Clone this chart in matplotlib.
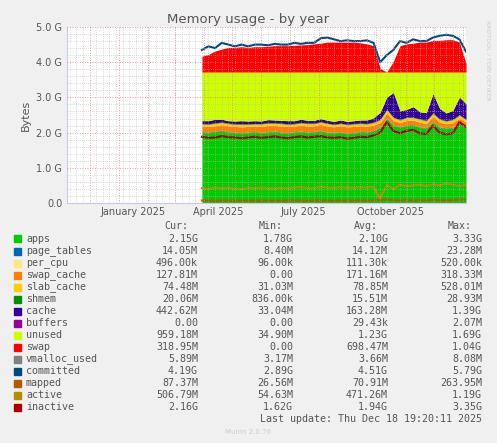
import matplotlib
matplotlib.use("Agg")
import matplotlib.pyplot as plt
import matplotlib.dates as mdates
import numpy as np
import pandas as pd

dates = pd.date_range("2025-03-30", periods=41, freq="7D")
mem_total = 3.72
apps = [2.02,2.00,2.03,2.05,2.01,2.00,1.98,2.00,2.02,1.99,2.01,2.03,2.00,1.98,2.01,2.03,2.00,2.02,2.04,2.00,1.99,2.01,1.97,1.99,2.02,2.01,2.05,2.15,2.40,2.20,2.15,2.20,2.22,2.15,2.13,2.30,2.15,2.12,2.14,2.25,2.15]
page_tables = [0.014]*41
per_cpu = [0.0001]*41
swap_cache = [0.15,0.16,0.15,0.16,0.17,0.16,0.17,0.16,0.15,0.17,0.18,0.16,0.17,0.18,0.16,0.17,0.17,0.16,0.18,0.17,0.16,0.17,0.18,0.17,0.16,0.16,0.15,0.12,0.14,0.13,0.12,0.13,0.12,0.13,0.12,0.14,0.13,0.12,0.13,0.14,0.13]
slab_cache = [0.06,0.06,0.07,0.06,0.06,0.06,0.07,0.06,0.06,0.07,0.06,0.06,0.07,0.06,0.06,0.06,0.07,0.06,0.06,0.07,0.06,0.06,0.06,0.07,0.06,0.06,0.07,0.08,0.09,0.08,0.07,0.08,0.07,0.08,0.07,0.09,0.08,0.07,0.08,0.09,0.07]
shmem = [0.015]*41
cache = [0.08,0.09,0.10,0.08,0.07,0.08,0.09,0.08,0.08,0.07,0.09,0.08,0.08,0.09,0.08,0.09,0.08,0.08,0.09,0.08,0.08,0.09,0.08,0.08,0.09,0.10,0.12,0.20,0.35,0.70,0.25,0.22,0.30,0.20,0.22,0.55,0.30,0.22,0.25,0.50,0.44]
buffers = [0.0]*41
swap = [0.45,0.50,0.60,0.65,0.70,0.70,0.72,0.70,0.72,0.72,0.73,0.75,0.75,0.75,0.76,0.77,0.78,0.80,0.82,0.85,0.85,0.85,0.85,0.85,0.83,0.80,0.75,0.10,0.0,0.30,0.75,0.80,0.82,0.85,0.85,0.90,0.90,0.92,0.92,0.85,0.25]
committed = [4.35,4.45,4.40,4.55,4.50,4.45,4.50,4.45,4.50,4.50,4.48,4.52,4.50,4.50,4.55,4.52,4.55,4.55,4.68,4.70,4.65,4.60,4.62,4.60,4.60,4.62,4.55,4.00,4.20,4.35,4.60,4.55,4.65,4.60,4.60,4.70,4.75,4.78,4.75,4.65,4.30]
vmalloc = [0.004]*41
mapped = [0.07,0.07,0.06,0.07,0.07,0.06,0.07,0.07,0.07,0.06,0.07,0.07,0.06,0.07,0.07,0.07,0.06,0.07,0.07,0.07,0.06,0.07,0.07,0.06,0.07,0.07,0.07,0.09,0.10,0.08,0.07,0.08,0.07,0.08,0.07,0.09,0.08,0.07,0.08,0.10,0.09]
active = [0.42,0.40,0.44,0.42,0.43,0.41,0.40,0.43,0.42,0.44,0.42,0.41,0.43,0.42,0.44,0.45,0.43,0.42,0.46,0.44,0.43,0.45,0.44,0.43,0.45,0.44,0.46,0.13,0.50,0.40,0.52,0.48,0.50,0.52,0.48,0.53,0.50,0.55,0.52,0.48,0.51]
inactive = [1.88,1.85,1.86,1.90,1.87,1.86,1.84,1.86,1.88,1.85,1.87,1.89,1.86,1.84,1.87,1.89,1.86,1.88,1.90,1.86,1.85,1.87,1.83,1.85,1.88,1.87,1.92,2.00,2.30,2.05,1.98,2.05,2.08,1.98,1.96,2.20,2.00,1.95,1.98,2.30,2.16]

legend_names = ["apps","page_tables","per_cpu","swap_cache","slab_cache","shmem","cache","buffers","unused","swap","vmalloc_used","committed","mapped","active","inactive"]
cur = ["2.15G","14.05M","496.00k","127.81M","74.48M","20.06M","442.62M","0.00","959.18M","318.95M","5.89M","4.19G","87.37M","506.79M","2.16G"]
mins = ["1.78G","8.40M","96.00k","0.00","31.03M","836.00k","33.04M","0.00","34.90M","0.00","3.17M","2.89G","26.56M","54.63M","1.62G"]
avgs = ["2.10G","14.12M","111.30k","171.16M","78.85M","15.51M","163.28M","29.43k","1.23G","698.47M","3.66M","4.51G","70.91M","471.26M","1.94G"]
maxs = ["3.33G","23.28M","520.00k","318.33M","528.01M","28.93M","1.39G","2.07M","1.69G","1.04G","8.08M","5.79G","263.95M","1.19G","3.35G"]
colors = ["#00CC00","#0066B3","#FFE680","#FF8000","#FFCC00","#008F00","#330099","#990099","#CCFF00","#FF0000","#808080","#00487D","#B35A00","#B38F00","#AA0000"]

W, H = 497, 443
fig = plt.figure(figsize=(W/100, H/100), dpi=100, facecolor="#F0F0F0")
ax = fig.add_axes([67/W, 1-203/H, 399/W, 176/H], facecolor="white")

stack = [apps, page_tables, per_cpu, swap_cache, slab_cache, shmem, cache, buffers]
base = np.zeros(len(dates))
for vals, c in zip(stack, colors[:8]):
    v = np.array(vals)
    ax.fill_between(dates, base, base+v, color=c, lw=0, step=None)
    base = base+v
ax.fill_between(dates, base, mem_total, color=colors[8], lw=0)
ax.fill_between(dates, mem_total, mem_total+np.array(swap), color=colors[9], lw=0)
ax.plot(dates, vmalloc, color=colors[10], lw=1)
ax.plot(dates, committed, color=colors[11], lw=1.5)
ax.plot(dates, mapped, color=colors[12], lw=1.5)
ax.plot(dates, active, color=colors[13], lw=1.5)
ax.plot(dates, inactive, color=colors[14], lw=1.5)

ax.set_xlim(pd.Timestamp("2024-11-07"), dates[-1])
ax.set_ylim(0, 5.0)
ax.set_yticks(np.arange(0, 5.01, 1.0))
ax.set_yticklabels(["0.0"] + [f"{v:.1f} G" for v in range(1, 6)], fontsize=7, color="#555555")
ax.set_yticks(np.arange(0, 5.01, 0.2), minor=True)
months = pd.date_range("2024-12-01", "2026-01-01", freq="MS")
ax.set_xticks(months)
ax.set_xticklabels([])
ax.set_xticks(pd.date_range("2024-11-10", "2026-01-04", freq="7D"), minor=True)
ax.tick_params(which="both", length=0)
ax.grid(which="major", color="#E08080", ls=(0, (1, 2)), lw=0.6)
ax.grid(which="minor", color="#BBBBBB", ls=(0, (1, 2)), lw=0.5)
ax.set_axisbelow(False)
for d in ["2025-01-16", "2025-04-16", "2025-07-16", "2025-10-16"]:
    ts = pd.Timestamp(d)
    ax.text(ts, -0.12, ts.strftime("%B %Y"), ha="center", va="top", fontsize=7, color="#555555")
for s in ["top", "right"]:
    ax.spines[s].set_visible(False)
for s in ["left", "bottom"]:
    ax.spines[s].set_color("#C8C8F0")
ax.set_ylabel("Bytes", fontsize=8, color="#555555")

fig.text(248/W, 1-19/H, "Memory usage - by year", ha="center", va="center", fontsize=9.5, color="#555555")
fig.text(488/W, 1-60/H, "RRDTOOL / TOBI OETIKER", rotation=270, ha="center", va="center", fontsize=4.5, color="#CCCCCC")

mono = "DejaVu Sans Mono"
fs = 7.2
tc = "#555555"
for x, t in [(198, "Cur:"), (293, "Min:"), (388, "Avg:"), (482, "Max:")]:
    fig.text((x-10)/W, 1-226/H, t, ha="right", va="center", fontsize=fs, family=mono, color=tc)
for i, n in enumerate(legend_names):
    y = 1-(239+12*i)/H
    fig.add_artist(plt.Rectangle((14/W, y-3.5/H), 7/W, 7/H, transform=fig.transFigure, color=colors[i]))
    fig.text(26/W, y, n, ha="left", va="center", fontsize=fs, family=mono, color=tc)
    for x, col in [(198, cur), (293, mins), (388, avgs), (482, maxs)]:
        fig.text(x/W, y, col[i], ha="right", va="center", fontsize=fs, family=mono, color=tc)
fig.text(482/W, 1-419/H, "Last update: Thu Dec 18 19:20:11 2025", ha="right", va="center", fontsize=fs, family=mono, color=tc)
fig.text(248/W, 1-432/H, "Munin 2.0.76", ha="center", va="center", fontsize=5, color="#CCCCCC")

fig.savefig("out.png", dpi=100, facecolor=fig.get_facecolor())
